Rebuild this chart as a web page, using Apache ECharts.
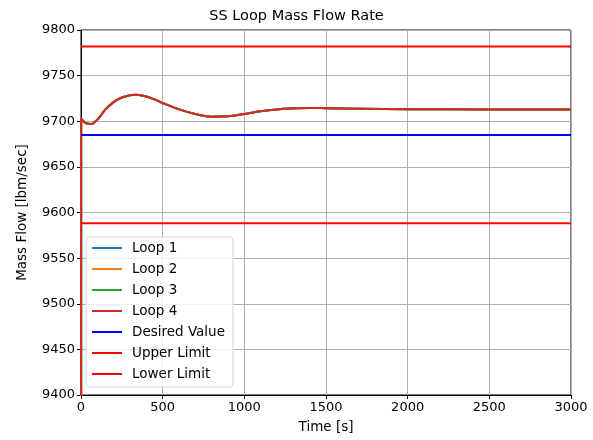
<!DOCTYPE html>
<html>
<head>
<meta charset="utf-8">
<script src="https://cdn.jsdelivr.net/npm/echarts@6/dist/echarts.min.js"></script>
<style>html,body{margin:0;padding:0;background:#fff;}#c{width:593px;height:440px;}</style>
</head>
<body>
<div id="c"></div>
<script>
const timeS = [0, 1, 10, 30, 60, 90, 120, 150, 200, 250, 300, 330, 380, 450, 500, 600, 700, 800, 900, 1000, 1100, 1200, 1300, 1400, 1500, 1700, 2000, 2500, 3000];
const loop1 = [0, 9703, 9701, 9698, 9697, 9700, 9706, 9713, 9721, 9726, 9728.5, 9729, 9728, 9724, 9720, 9713, 9708, 9705, 9705.5, 9708, 9711, 9713, 9714, 9714.5, 9714.3, 9713.8, 9713.2, 9713, 9713];
const loop2 = [0, 9703, 9701, 9698, 9697, 9700, 9706, 9713, 9721, 9726, 9728.5, 9729, 9728, 9724, 9720, 9713, 9708, 9705, 9705.5, 9708, 9711, 9713, 9714, 9714.5, 9714.3, 9713.8, 9713.2, 9713, 9713];
const loop3 = [0, 9703, 9701, 9698, 9697, 9700, 9706, 9713, 9721, 9726, 9728.5, 9729, 9728, 9724, 9720, 9713, 9708, 9705, 9705.5, 9708, 9711, 9713, 9714, 9714.5, 9714.3, 9713.8, 9713.2, 9713, 9713];
const loop4 = [0, 9703, 9701, 9698, 9697, 9700, 9706, 9713, 9721, 9726, 9728.5, 9729, 9728, 9724, 9720, 9713, 9708, 9705, 9705.5, 9708, 9711, 9713, 9714, 9714.5, 9714.3, 9713.8, 9713.2, 9713, 9713];
const desiredValue = 9685;
const upperLimit = 9781.85;
const lowerLimit = 9588.15;
const timeRange = [0, 3000];
const seriesNames = ['Loop 1', 'Loop 2', 'Loop 3', 'Loop 4', 'Desired Value', 'Upper Limit', 'Lower Limit'];
const seriesColors = ['#1f77b4', '#ff7f0e', '#2ca02c', '#d62728', '#0000ff', '#ff0000', '#ff0000'];

const FONT = 'DejaVu Sans';
const pair = (t, v) => t.map((x, i) => [x, v[i]]);
const loops = [loop1, loop2, loop3, loop4];
const series = [];
loops.forEach((l, i) => series.push({
  name: seriesNames[i], type: 'line', data: pair(timeS, l), smooth: 0.4,
  showSymbol: false, symbol: 'none', lineStyle: { width: 2, color: seriesColors[i] },
  itemStyle: { color: seriesColors[i] }, clip: true, animation: false
}));
[desiredValue, upperLimit, lowerLimit].forEach((v, j) => series.push({
  name: seriesNames[4 + j], type: 'line', data: [[timeRange[0], v], [timeRange[1], v]],
  showSymbol: false, symbol: 'none', lineStyle: { width: 2, color: seriesColors[4 + j] },
  itemStyle: { color: seriesColors[4 + j] }, animation: false
}));

const chart = echarts.init(document.getElementById('c'), null, { renderer: 'canvas' });
chart.setOption({
  animation: false,
  backgroundColor: '#fff',
  title: { text: 'SS Loop Mass Flow Rate', left: 'center', top: 4,
    textStyle: { fontFamily: FONT, fontSize: 14.5, fontWeight: 'normal', color: '#000' } },
  grid: { left: 81, right: 22, top: 30, bottom: 45, show: true, borderColor: '#000', borderWidth: 1, backgroundColor: 'transparent' },
  legend: {
    data: seriesNames, orient: 'vertical', left: 86, top: 237,
    icon: 'rect', itemWidth: 30, itemHeight: 2, itemGap: 7,
    backgroundColor: 'rgba(255,255,255,0.8)', borderColor: '#d5d5d5', borderWidth: 1, borderRadius: 3,
    padding: [4, 8, 6, 6],
    textStyle: { fontFamily: FONT, fontSize: 13.5, color: '#000', lineHeight: 14, padding: [0, 0, 0, 5] }
  },
  xAxis: {
    type: 'value', min: 0, max: 3000, interval: 500,
    name: 'Time [s]', nameLocation: 'middle', nameGap: 25,
    nameTextStyle: { fontFamily: FONT, fontSize: 13.5, color: '#000' },
    axisLine: { show: true, onZero: false, lineStyle: { color: '#000' } },
    axisTick: { show: true, inside: false, length: 4, lineStyle: { color: '#000' } },
    axisLabel: { fontFamily: FONT, fontSize: 13, color: '#000', margin: 6, formatter: v => String(v) },
    splitLine: { show: true, lineStyle: { color: '#b0b0b0', width: 1 } }
  },
  yAxis: {
    type: 'value', min: 9400, max: 9800, interval: 50,
    name: 'Mass Flow [lbm/sec]', nameLocation: 'middle', nameGap: 52, nameRotate: 90,
    nameTextStyle: { fontFamily: FONT, fontSize: 13.5, color: '#000' },
    axisLine: { show: true, onZero: false, lineStyle: { color: '#000' } },
    axisTick: { show: true, inside: false, length: 4, lineStyle: { color: '#000' } },
    axisLabel: { fontFamily: FONT, fontSize: 13, color: '#000', margin: 6, formatter: v => String(v) },
    splitLine: { show: true, lineStyle: { color: '#b0b0b0', width: 1 } }
  },
  series: series
});
</script>
</body>
</html>
